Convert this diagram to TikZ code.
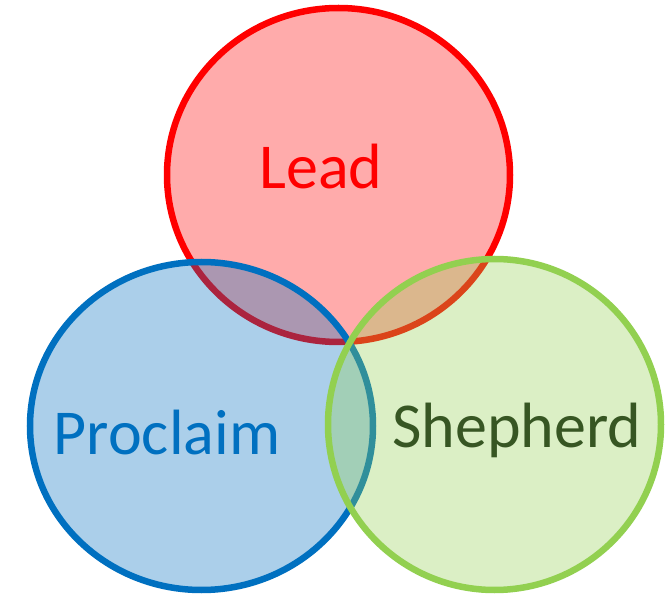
\documentclass[tikz,border=0pt]{standalone}
\usepackage{fontspec}
\setmainfont{Carlito}
\definecolor{cred}{HTML}{FF0000}
\definecolor{cblue}{HTML}{0070C0}
\definecolor{cgreen}{HTML}{92D050}
\definecolor{tgreen}{HTML}{375623}
\begin{document}
\begin{tikzpicture}[x=1pt,y=-1pt,
  ring/.style={line width=6.5pt,fill opacity=0.33},
  lbl/.style={anchor=base,font=\fontsize{64}{64}\selectfont,inner sep=0pt}]
\useasboundingbox (0,0) rectangle (665,596);
\fill[white] (0,0) rectangle (665,596);
\path[ring,draw=cred,fill=cred] (338.5,175) ellipse [x radius=171.5,y radius=167] node (lead) {};
\path[ring,draw=cblue,fill=cblue] (201.5,426) ellipse [x radius=171.5,y radius=164] node (procl) {};
\path[ring,draw=cgreen,fill=cgreen] (494.5,424.5) ellipse [x radius=166.5,y radius=165.5] node (shep) {};
\node[lbl,text=cred] (tlead) at (321,189) {Lead};
\node[lbl,text=cblue] (tprocl) at (167,454) {Proclaim};
\node[lbl,text=tgreen] (tshep) at (517,448) {Shepherd};
\end{tikzpicture}
\end{document}
